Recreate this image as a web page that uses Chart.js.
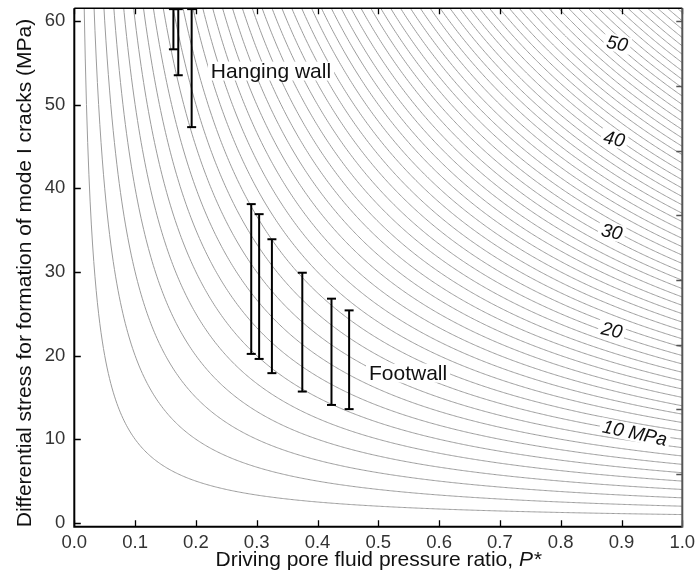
<!DOCTYPE html>
<html>
<head>
<meta charset="utf-8">
<script src="https://cdn.jsdelivr.net/npm/chart.js@4.4.1/dist/chart.umd.min.js"></script>
<style>
  html, body { margin: 0; padding: 0; background: #fff; }
</style>
</head>
<body>
<canvas id="chart" width="695" height="583"></canvas>
<script>
'use strict';

const FONT = 'Arial, "Liberation Sans", Helvetica, sans-serif';

// contour levels: driving pressure (Pf - sigma3) in MPa, one gray line each
let levels = [1, 2, 3, 4, 5, 6, 7, 8, 9, 10, 11, 12, 13, 14, 15, 16, 17, 18, 19, 20,
  21, 22, 23, 24, 25, 26, 27, 28, 29, 30, 31, 32, 33, 34, 35, 36, 37, 38, 39, 40,
  41, 42, 43, 44, 45, 46, 47, 48, 49, 50, 51, 52, 53, 54, 55, 56, 57, 58, 59, 60, 61];

// hanging wall ranges (upper ends run off the top of the plot)
let hwPstar = [0.163, 0.171, 0.193];
let hwLow = [56.6, 53.5, 47.3];
let hwHigh = [61.4, 61.4, 61.4];

// footwall ranges
let fwPstar = [0.291, 0.304, 0.325, 0.375, 0.423, 0.452];
let fwLow = [20.2, 19.6, 17.9, 15.7, 14.1, 13.6];
let fwHigh = [38.1, 36.9, 33.9, 29.9, 26.8, 25.4];

// unlabelled ticks on the right-hand axis, in MPa of the left axis
let rightTicks = [59.98, 52.21, 44.48, 36.80, 29.03, 21.30, 13.58, 5.81];

let contourNames = ['50', '40', '30', '20', '10 MPa'];
let contourNameP = [0.893, 0.888, 0.884, 0.884, 0.922];
let contourNameS = [57.3, 45.9, 34.8, 23.05, 10.75];


let datasets = [];

// each contour line: P* x sigma_d = level, traced through a P* grid
for (let i = 0; i < levels.length; i++) {
    let pts = [];
    for (let p = 0.002; p <= 1.0001; p += 0.002) {
        let s = levels[i] / p;
        if (s < 120) pts.push({x: p, y: s});
    }
    datasets.push({
        data: pts,
        borderColor: '#9c9c9c',
        borderWidth: 1,
        pointRadius: 0,
        order: 2
    });
}

function addBars(xs, lows, highs) {
    for (let i = 0; i < xs.length; i++) {
        datasets.push({
            data: [{x: xs[i], y: lows[i]}, {x: xs[i], y: highs[i]}],
            borderColor: '#000',
            borderWidth: 2,
            pointStyle: 'line',
            pointRadius: 4.5,
            pointBorderWidth: 2,
            pointBorderColor: '#000',
            clip: false,
            order: 0
        });
    }
}
addBars(hwPstar, hwLow, hwHigh);
addBars(fwPstar, fwLow, fwHigh);


function boxedText(ctx, text, x, y, angle, font) {
    ctx.save();
    ctx.translate(x, y);
    ctx.rotate(angle * Math.PI / 180);
    ctx.font = font;
    let w = ctx.measureText(text).width;
    let h = parseFloat(font.match(/(\d+)px/)[1]);
    ctx.fillStyle = '#fff';
    ctx.fillRect(-w / 2 - 3, -h * 0.45, w + 6, h * 0.9);
    ctx.fillStyle = '#111';
    ctx.textAlign = 'center';
    ctx.textBaseline = 'middle';
    ctx.fillText(text, 0, 1);
    ctx.restore();
}

const decorations = {
    id: 'decorations',
    afterDatasetsDraw(chart) {
        let ctx = chart.ctx;
        let xs = chart.scales.x, ys = chart.scales.y;
        for (let i = 0; i < contourNames.length; i++) {
            boxedText(ctx, contourNames[i], xs.getPixelForValue(contourNameP[i]),
                ys.getPixelForValue(contourNameS[i]), 12, 'italic 19px ' + FONT);
        }
        boxedText(ctx, 'Hanging wall', xs.getPixelForValue(0.3235), ys.getPixelForValue(54.0), 0, '21px ' + FONT);
        boxedText(ctx, 'Footwall', xs.getPixelForValue(0.549), ys.getPixelForValue(17.9), 0, '21px ' + FONT);
    },
    afterDraw(chart) {
        let ctx = chart.ctx;
        let a = chart.chartArea;
        let xs = chart.scales.x, ys = chart.scales.y;
        let tl = 6.5;
        ctx.save();
        ctx.lineCap = 'butt';

        // ticks pointing into the plot
        ctx.strokeStyle = '#000';
        ctx.lineWidth = 1.3;
        ctx.beginPath();
        xs.ticks.forEach(t => {
            let px = Math.round(xs.getPixelForValue(t.value)) + 0.5;
            ctx.moveTo(px, a.bottom); ctx.lineTo(px, a.bottom - tl);
            ctx.moveTo(px, a.top); ctx.lineTo(px, a.top + tl - 0.5);
        });
        ys.ticks.forEach(t => {
            let py = Math.round(ys.getPixelForValue(t.value)) + 0.5;
            ctx.moveTo(a.left, py); ctx.lineTo(a.left + tl, py);
        });
        ctx.stroke();
        ctx.strokeStyle = '#555';
        ctx.beginPath();
        rightTicks.forEach(v => {
            let py = Math.round(ys.getPixelForValue(v)) + 0.5;
            ctx.moveTo(a.right, py); ctx.lineTo(a.right - tl + 0.5, py);
        });
        ctx.stroke();

        // frame
        ctx.strokeStyle = '#000';
        ctx.lineWidth = 2;
        ctx.beginPath();
        ctx.moveTo(a.left, a.top); ctx.lineTo(a.left, a.bottom); ctx.lineTo(a.right, a.bottom);
        ctx.stroke();
        ctx.lineWidth = 1.5;
        ctx.beginPath();
        ctx.moveTo(a.left, a.top); ctx.lineTo(a.right, a.top);
        ctx.stroke();
        ctx.strokeStyle = '#555';
        ctx.lineWidth = 2;
        ctx.beginPath();
        ctx.moveTo(a.right, a.top); ctx.lineTo(a.right, a.bottom + 1);
        ctx.stroke();

        // axis titles
        ctx.fillStyle = '#111';
        ctx.textBaseline = 'alphabetic';
        let part1 = 'Driving pore fluid pressure ratio, ';
        let part2 = 'P*';
        ctx.font = '21px ' + FONT;
        let w1 = ctx.measureText(part1).width;
        ctx.font = 'italic 21px ' + FONT;
        let w2 = ctx.measureText(part2).width;
        let x0 = (a.left + a.right) / 2 - (w1 + w2) / 2;
        ctx.font = '21px ' + FONT;
        ctx.textAlign = 'left';
        ctx.fillText(part1, x0, 566);
        ctx.font = 'italic 21px ' + FONT;
        ctx.fillText(part2, x0 + w1, 566);

        ctx.translate(31, 273);
        ctx.rotate(-Math.PI / 2);
        ctx.font = '21px ' + FONT;
        ctx.textAlign = 'center';
        ctx.fillText('Differential stress for formation of mode I cracks (MPa)', 0, 0);
        ctx.restore();
    }
};


let ctx = document.getElementById('chart').getContext('2d');

let myChart = new Chart(ctx, {
    type: 'line',
    data: { datasets: datasets },
    options: {
        responsive: false,
        animation: false,
        events: [],
        layout: { padding: { top: 8.3, right: 12.7, left: 0, bottom: 0 } },
        plugins: { legend: { display: false }, tooltip: { enabled: false } },
        scales: {
            x: {
                type: 'linear',
                min: 0,
                max: 1,
                grid: { display: false, drawTicks: false },
                border: { display: false },
                ticks: {
                    stepSize: 0.1,
                    padding: 5,
                    color: '#333',
                    font: { family: FONT, size: 18.5 },
                    maxRotation: 0,
                    autoSkip: false,
                    callback: v => v.toFixed(1)
                },
                afterFit: s => {
                    s.height = 56.3;
                    s.paddingLeft = 0;
                    s.paddingRight = 0;
                }
            },
            y: {
                type: 'linear',
                min: -0.45,
                max: 61.5,
                grid: { display: false, drawTicks: false },
                border: { display: false },
                ticks: {
                    stepSize: 10,
                    includeBounds: false,
                    padding: 9,
                    color: '#333',
                    font: { family: FONT, size: 18.5 }
                },
                afterFit: s => {
                    s.width = 74.3;
                    s.paddingTop = 0;
                    s.paddingBottom = 0;
                }
            }
        }
    },
    plugins: [decorations]
});
</script>
</body>
</html>
